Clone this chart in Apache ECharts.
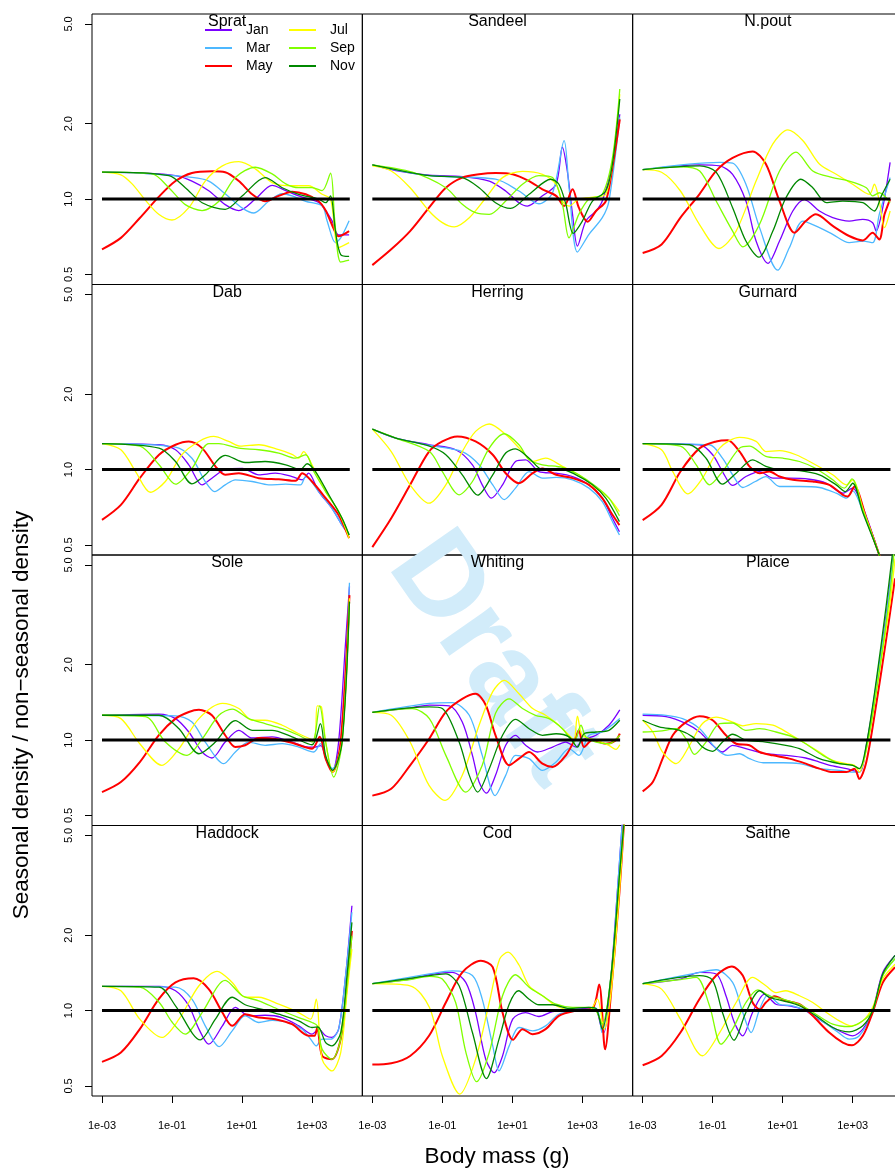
<!DOCTYPE html>
<html>
<head>
<meta charset="utf-8">
<script src="https://cdn.jsdelivr.net/npm/echarts@6/dist/echarts.min.js"></script>
<style>
html, body { margin: 0; padding: 0; background: #fff; overflow: hidden; }
/* the figure is a little wider than the window: its right column is cut at the edge */
#main { width: 905px; height: 1171px; }
</style>
</head>
<body>
<div id="main"></div>
<script>
// seasonal / non-seasonal density ratio by body mass, one panel per species
var months = ['Jan', 'Mar', 'May', 'Jul', 'Sep', 'Nov'];
var speciesNames = ['Sprat', 'Sandeel', 'N.pout', 'Dab', 'Herring', 'Gurnard',
                    'Sole', 'Whiting', 'Plaice', 'Haddock', 'Cod', 'Saithe'];
var xTicks = [1e-3, 1e-1, 1e1, 1e3];
var xTickLabels = ['1e-03', '1e-01', '1e+01', '1e+03'];
var yTicks = [0.5, 1, 2, 5];
var yTickLabels = ['0.5', '1.0', '2.0', '5.0'];
var refLine = [[1e-3, 1], [12000, 1]];

// each curve: [log10 body mass (g), ratio], in the order of months
var sprat = [
  [[-3,1.28],[-1.92,1.27],[-0.90,1.24],[-0.43,1.18],[0.05,1.08],[0.52,0.95],[0.91,0.90],[1.38,1.0],[1.86,1.135],[2.25,1.08],[2.62,1.03],[3.19,0.97],[3.39,0.90],[3.57,0.82],[3.76,0.72],[4.06,0.72]],
  [[-3,1.28],[-1.92,1.27],[-0.43,1.22],[0.05,1.18],[0.52,1.05],[1.01,0.92],[1.34,0.88],[1.76,0.98],[2.15,1.05],[2.43,1.03],[2.82,0.98],[3.29,0.94],[3.43,0.82],[3.67,0.67],[3.82,0.70],[4.06,0.82]],
  [[-3,0.63],[-2.46,0.70],[-1.92,0.84],[-1.38,1.02],[-0.90,1.18],[-0.43,1.27],[0.14,1.29],[0.52,1.28],[0.91,1.18],[1.29,1.045],[1.66,0.98],[2.05,1.03],[2.43,1.07],[2.82,1.045],[3.19,0.98],[3.39,0.90],[3.57,0.79],[3.76,0.71],[4.06,0.745]],
  [[-3,1.28],[-2.46,1.25],[-2.14,1.15],[-1.76,0.99],[-1.38,0.87],[-1.00,0.825],[-0.52,0.924],[-0.05,1.18],[0.44,1.356],[0.91,1.41],[1.38,1.32],[1.86,1.164],[2.43,1.13],[2.90,1.13],[3.29,1.045],[3.53,1.0],[3.76,0.64],[4.06,0.67]],
  [[-3,1.28],[-1.57,1.26],[-1.09,1.11],[-0.62,0.95],[-0.14,0.90],[0.34,0.98],[0.81,1.22],[1.38,1.34],[1.86,1.26],[2.25,1.15],[2.62,1.11],[3.00,1.11],[3.29,1.08],[3.53,1.27],[3.65,0.82],[3.82,0.56],[4.06,0.57]],
  [[-3,1.28],[-1.09,1.24],[-0.62,1.11],[-0.14,0.967],[0.52,0.91],[1.01,1.03],[1.66,1.218],[2.15,1.11],[2.62,1.045],[3.19,1.0],[3.39,0.967],[3.53,1.03],[3.67,0.745],[3.82,0.60],[4.06,0.59]]
];
var sandeel = [
  [[-3,1.37],[-2.33,1.3],[-1.37,1.245],[-0.43,1.23],[0.34,1.18],[0.81,1.077],[1.19,0.967],[1.43,0.938],[1.86,1.03],[2.25,1.146],[2.43,1.61],[2.57,1.295],[2.72,0.869],[2.86,0.649],[3.10,0.817],[3.39,0.896],[3.57,0.982],[3.86,1.38],[4.07,2.18]],
  [[-3,1.37],[-1.37,1.24],[0.52,1.20],[1.19,1.077],[1.76,0.958],[2.15,1.06],[2.48,1.71],[2.62,1.11],[2.86,0.614],[3.19,0.723],[3.57,0.843],[3.76,0.982],[4.07,2.12]],
  [[-3,0.545],[-2.46,0.63],[-1.92,0.745],[-1.38,0.924],[-0.90,1.11],[-0.43,1.218],[0.05,1.256],[0.52,1.27],[1.01,1.256],[1.48,1.18],[1.86,1.094],[2.25,1.03],[2.48,0.938],[2.72,1.094],[2.90,0.924],[3.15,0.812],[3.39,0.896],[3.67,0.982],[3.86,1.336],[4.07,2.08]],
  [[-3,1.356],[-2.46,1.295],[-1.92,1.11],[-1.38,0.896],[-1.00,0.805],[-0.66,0.774],[-0.23,0.843],[0.24,1.01],[0.72,1.218],[1.29,1.29],[1.86,1.256],[2.25,1.146],[2.43,0.982],[2.62,0.938],[2.90,1.0],[3.39,1.02],[3.67,1.045],[3.86,1.4],[4.07,2.62]],
  [[-3,1.37],[-1.86,1.28],[-0.90,1.11],[-0.43,0.953],[-0.05,0.882],[0.34,0.869],[0.81,0.982],[1.29,1.146],[1.76,1.24],[2.15,1.218],[2.43,0.953],[2.62,0.70],[2.90,0.869],[3.19,1.0],[3.57,1.045],[3.86,1.46],[4.07,2.75]],
  [[-3,1.37],[-1.37,1.24],[-0.43,1.218],[0.05,1.11],[0.52,0.967],[0.95,0.918],[1.48,1.045],[2.10,1.20],[2.33,1.146],[2.53,0.953],[2.74,0.73],[3.00,0.817],[3.29,0.982],[3.67,1.077],[3.86,1.38],[4.07,2.51]]
];
var npout = [
  [[-3,1.31],[-1.37,1.37],[-0.80,1.356],[-0.43,1.256],[-0.05,0.982],[0.24,0.68],[0.58,0.554],[0.91,0.68],[1.29,0.896],[1.62,0.995],[2.05,0.896],[2.43,0.843],[2.90,0.817],[3.29,0.83],[3.57,0.805],[3.67,0.745],[3.86,0.924],[4.07,1.40]],
  [[-3,1.31],[-0.80,1.40],[-0.43,1.39],[-0.05,1.146],[0.34,0.769],[0.86,0.52],[1.19,0.639],[1.58,0.817],[2.05,0.769],[2.43,0.723],[2.90,0.67],[3.29,0.68],[3.57,0.67],[3.76,0.869],[4.07,1.218]],
  [[-3,0.609],[-2.46,0.659],[-1.92,0.843],[-1.38,1.045],[-0.90,1.295],[-0.43,1.46],[0.14,1.55],[0.52,1.38],[0.91,0.982],[1.34,0.734],[1.66,0.817],[1.95,0.869],[2.43,0.781],[2.90,0.712],[3.29,0.684],[3.57,0.734],[3.76,0.69],[3.91,0.869],[4.07,1.0]],
  [[-3,1.31],[-2.46,1.28],[-1.92,1.077],[-1.38,0.793],[-0.82,0.635],[-0.33,0.745],[0.24,1.18],[0.72,1.66],[1.15,1.89],[1.58,1.71],[2.05,1.38],[2.53,1.256],[3.00,1.146],[3.48,1.045],[3.62,1.146],[3.76,0.982],[3.91,0.769],[4.07,0.896]],
  [[-3,1.31],[-1.92,1.345],[-1.37,1.295],[-0.90,0.982],[-0.43,0.745],[-0.14,0.645],[0.34,0.793],[0.91,1.295],[1.38,1.54],[1.86,1.295],[2.43,1.218],[2.90,1.18],[3.39,1.11],[3.57,1.03],[3.76,1.06],[4.07,0.967]],
  [[-3,1.31],[-1.37,1.356],[-0.90,1.28],[-0.43,0.924],[-0.05,0.68],[0.32,0.586],[0.72,0.745],[1.09,1.01],[1.52,1.20],[1.86,1.11],[2.25,0.967],[2.72,0.982],[3.29,0.967],[3.62,0.896],[3.82,1.03],[4.07,1.20]]
];
var dab = [
  [[-3,1.27],[-1.37,1.256],[-0.90,1.20],[-0.52,1.045],[-0.14,0.869],[0.14,0.924],[0.52,1.0],[1.01,1.01],[1.48,0.953],[1.95,0.967],[2.43,0.938],[2.72,0.91],[2.90,0.967],[3.19,0.817],[3.57,0.70],[3.86,0.60],[4.06,0.55]],
  [[-3,1.27],[-0.90,1.23],[-0.43,1.11],[-0.05,0.896],[0.22,0.817],[0.52,0.869],[0.81,0.91],[1.29,0.896],[1.76,0.869],[2.25,0.874],[2.67,0.869],[2.82,0.938],[3.19,0.817],[3.57,0.70],[3.86,0.60],[4.06,0.55]],
  [[-3,0.63],[-2.46,0.723],[-1.92,0.924],[-1.37,1.146],[-0.90,1.256],[-0.52,1.295],[-0.14,1.218],[0.24,1.03],[0.52,0.953],[0.91,0.967],[1.48,0.924],[2.05,0.915],[2.53,0.902],[2.72,0.967],[3.00,0.896],[3.39,0.769],[3.76,0.659],[4.06,0.532]],
  [[-3,1.27],[-2.46,1.20],[-2.04,0.982],[-1.62,0.812],[-1.19,0.896],[-0.72,1.146],[-0.23,1.295],[0.19,1.356],[0.62,1.295],[0.95,1.24],[1.48,1.256],[2.05,1.20],[2.43,1.15],[2.62,1.11],[2.76,1.18],[3.00,1.045],[3.39,0.817],[3.76,0.68],[4.06,0.532]],
  [[-3,1.27],[-1.92,1.24],[-1.37,1.045],[-0.90,0.874],[-0.43,1.01],[0.05,1.27],[0.34,1.27],[0.91,1.218],[1.48,1.20],[2.05,1.164],[2.53,1.11],[2.82,1.146],[3.05,0.982],[3.39,0.817],[3.76,0.68],[4.06,0.548]],
  [[-3,1.27],[-1.37,1.218],[-0.90,1.077],[-0.43,0.877],[-0.05,0.953],[0.52,1.14],[1.09,1.067],[1.66,1.077],[2.25,1.045],[2.67,1.0],[2.86,1.055],[3.10,0.982],[3.48,0.793],[3.86,0.639],[4.06,0.548]]
];
var herring = [
  [[-3,1.45],[-2.33,1.336],[-1.37,1.256],[-0.62,1.20],[-0.14,1.045],[0.14,0.869],[0.40,0.769],[0.72,0.869],[1.09,1.077],[1.38,1.094],[1.76,0.982],[2.25,0.967],[2.72,0.938],[3.19,0.869],[3.57,0.769],[3.86,0.639],[4.06,0.565]],
  [[-3,1.45],[-2.33,1.336],[-1.37,1.25],[-0.43,1.18],[0.05,1.045],[0.44,0.869],[0.77,0.759],[1.09,0.843],[1.48,0.982],[1.86,0.924],[2.25,0.93],[2.72,0.91],[3.19,0.843],[3.57,0.745],[3.86,0.62],[4.06,0.548]],
  [[-3,0.49],[-2.46,0.639],[-1.92,0.869],[-1.38,1.18],[-1.00,1.295],[-0.57,1.356],[-0.05,1.295],[0.44,1.146],[0.81,0.967],[1.19,0.882],[1.58,0.967],[1.86,1.01],[2.25,0.953],[2.72,0.924],[3.19,0.869],[3.57,0.769],[3.86,0.66],[4.06,0.60]],
  [[-3,1.45],[-2.46,1.18],[-1.92,0.869],[-1.38,0.734],[-0.90,0.869],[-0.43,1.18],[-0.05,1.42],[0.34,1.52],[0.81,1.38],[1.29,1.18],[1.58,1.077],[1.95,1.11],[2.43,1.03],[2.90,0.953],[3.39,0.843],[3.76,0.769],[4.06,0.68]],
  [[-3,1.45],[-2.33,1.336],[-1.37,1.18],[-1.00,0.982],[-0.52,0.793],[-0.14,0.896],[0.34,1.218],[0.77,1.39],[1.19,1.256],[1.48,1.094],[1.86,1.045],[2.43,1.02],[2.90,0.953],[3.39,0.856],[3.76,0.769],[4.06,0.654]],
  [[-3,1.45],[-2.33,1.336],[-1.37,1.24],[-0.90,1.146],[-0.43,0.953],[0.01,0.79],[0.44,0.953],[0.81,1.164],[1.09,1.21],[1.48,1.11],[1.86,1.0],[2.33,1.01],[2.82,0.953],[3.29,0.869],[3.67,0.769],[4.06,0.62]]
];
var gurnard = [
  [[-3,1.27],[-1.37,1.256],[-1.00,1.146],[-0.72,0.982],[-0.43,0.864],[-0.05,0.938],[0.34,0.982],[0.72,0.924],[1.19,0.924],[1.76,0.915],[2.25,0.882],[2.72,0.805],[3.00,0.843],[3.19,0.769],[3.48,0.60],[3.76,0.456],[3.89,0.39]],
  [[-3,1.27],[-1.09,1.256],[-0.72,1.11],[-0.43,0.953],[-0.14,0.848],[0.22,0.896],[0.52,0.938],[0.91,0.856],[1.48,0.856],[2.05,0.848],[2.53,0.805],[2.82,0.769],[3.00,0.822],[3.29,0.68],[3.76,0.456],[3.89,0.39]],
  [[-3,0.628],[-2.46,0.723],[-1.92,0.982],[-1.37,1.218],[-0.90,1.295],[-0.57,1.31],[-0.23,1.18],[0.05,1.03],[0.34,0.967],[0.62,0.982],[0.91,0.938],[1.29,0.91],[1.86,0.896],[2.33,0.869],[2.72,0.793],[2.86,0.781],[3.05,0.856],[3.39,0.639],[3.76,0.456],[3.89,0.39]],
  [[-3,1.27],[-2.46,1.20],[-2.14,0.982],[-1.71,0.80],[-1.29,0.924],[-0.80,1.218],[-0.23,1.345],[0.24,1.295],[0.52,1.18],[0.91,1.19],[1.38,1.146],[1.86,1.06],[2.43,0.953],[2.82,0.869],[3.00,0.91],[3.29,0.70],[3.76,0.456],[3.89,0.39]],
  [[-3,1.27],[-1.92,1.24],[-1.47,1.045],[-1.09,0.869],[-0.72,0.982],[-0.23,1.218],[0.05,1.24],[0.52,1.13],[1.01,1.11],[1.48,1.077],[1.95,1.01],[2.43,0.91],[2.76,0.843],[2.98,0.918],[3.29,0.69],[3.76,0.456],[3.89,0.39]],
  [[-3,1.27],[-1.66,1.256],[-1.19,1.11],[-0.72,0.874],[-0.33,0.967],[0.14,1.094],[0.52,1.03],[0.91,1.0],[1.48,0.99],[2.05,0.953],[2.53,0.869],[2.79,0.817],[3.00,0.882],[3.29,0.674],[3.76,0.456],[3.89,0.39]]
];
var sole = [
  [[-3,1.256],[-1.37,1.27],[-0.90,1.218],[-0.52,1.077],[-0.14,0.896],[0.14,0.848],[0.52,0.982],[0.91,1.094],[1.29,1.02],[1.86,1.03],[2.43,0.982],[2.90,0.938],[3.10,0.938],[3.25,0.95],[3.43,0.817],[3.59,0.757],[3.76,0.982],[3.96,2.47],[4.07,4.1]],
  [[-3,1.256],[-0.90,1.25],[-0.43,1.18],[-0.05,0.982],[0.48,0.805],[0.81,0.896],[1.19,0.982],[1.66,0.953],[2.15,0.967],[2.62,0.938],[3.05,0.896],[3.24,0.967],[3.43,0.817],[3.59,0.769],[3.82,0.982],[4.07,4.25]],
  [[-3,0.62],[-2.46,0.68],[-1.92,0.817],[-1.38,1.045],[-0.90,1.218],[-0.52,1.295],[-0.23,1.32],[0.14,1.256],[0.52,1.045],[0.81,0.938],[1.09,0.953],[1.48,1.02],[1.95,1.01],[2.43,0.975],[3.00,0.924],[3.22,1.03],[3.39,0.843],[3.59,0.745],[3.82,0.982],[4.07,3.79]],
  [[-3,1.256],[-2.46,1.218],[-1.92,0.967],[-1.29,0.793],[-0.80,0.924],[-0.23,1.218],[0.44,1.40],[0.91,1.336],[1.29,1.20],[1.66,1.20],[2.15,1.146],[2.62,1.06],[3.05,1.0],[3.15,1.37],[3.27,1.356],[3.39,0.982],[3.59,0.745],[3.86,1.0],[4.07,3.68]],
  [[-3,1.256],[-1.76,1.24],[-1.19,0.982],[-0.57,0.869],[-0.14,1.01],[0.34,1.256],[0.72,1.33],[1.19,1.218],[1.66,1.164],[2.15,1.11],[2.62,1.045],[3.00,0.982],[3.22,1.37],[3.39,0.982],[3.62,0.712],[3.86,0.982],[4.07,3.57]],
  [[-3,1.256],[-1.37,1.256],[-0.80,1.11],[-0.23,0.882],[0.24,0.982],[0.81,1.196],[1.29,1.094],[1.86,1.094],[2.43,1.03],[3.00,0.958],[3.24,1.164],[3.39,0.869],[3.59,0.757],[3.86,0.982],[4.07,3.57]]
];
var whiting = [
  [[-3,1.29],[-1.92,1.345],[-1.37,1.38],[-0.80,1.37],[-0.43,1.18],[-0.14,0.869],[0.05,0.68],[0.26,0.614],[0.52,0.723],[0.81,0.953],[1.09,1.045],[1.38,0.953],[1.72,0.896],[2.15,0.938],[2.53,0.982],[2.82,0.938],[3.00,1.0],[3.39,1.045],[3.76,1.146],[4.07,1.32]],
  [[-3,1.29],[-1.37,1.40],[-0.72,1.41],[-0.23,1.256],[0.14,0.869],[0.51,0.60],[0.81,0.723],[1.09,0.869],[1.48,0.843],[1.86,0.757],[2.25,0.817],[2.62,0.924],[2.90,0.869],[3.19,1.045],[3.57,1.077],[4.07,1.218]],
  [[-3,0.60],[-2.46,0.639],[-1.92,0.793],[-1.38,1.01],[-0.90,1.295],[-0.43,1.46],[-0.05,1.53],[0.24,1.38],[0.52,1.045],[0.91,0.793],[1.19,0.843],[1.48,0.896],[1.86,0.805],[2.15,0.781],[2.53,0.869],[2.82,1.03],[2.90,1.094],[3.05,0.938],[3.29,1.0],[3.67,0.967],[3.96,1.0],[4.07,1.06]],
  [[-3,1.29],[-2.46,1.256],[-1.92,0.982],[-1.38,0.659],[-0.92,0.574],[-0.43,0.723],[0.05,1.146],[0.44,1.56],[0.77,1.73],[1.19,1.53],[1.58,1.336],[1.95,1.256],[2.33,1.146],[2.62,1.045],[2.76,1.0],[2.86,1.245],[3.00,1.045],[3.39,1.0],[3.76,0.953],[3.96,0.918],[4.07,0.958]],
  [[-3,1.29],[-1.86,1.336],[-1.37,1.218],[-0.90,0.869],[-0.33,0.62],[0.14,0.793],[0.52,1.28],[0.91,1.46],[1.29,1.336],[1.66,1.256],[2.05,1.218],[2.43,1.11],[2.76,0.982],[2.96,1.146],[3.10,1.03],[3.39,0.982],[3.76,0.967],[4.07,1.045]],
  [[-3,1.29],[-1.37,1.356],[-1.00,1.336],[-0.52,0.982],[-0.23,0.723],[0.01,0.62],[0.34,0.769],[0.72,1.045],[1.09,1.21],[1.48,1.11],[1.86,1.045],[2.25,1.06],[2.62,1.03],[2.86,0.938],[3.05,1.06],[3.39,1.077],[3.76,1.094],[4.07,1.20]]
];
var plaice = [
  [[-3,1.256],[-2.33,1.24],[-1.76,1.164],[-1.37,1.077],[-1.00,0.953],[-0.72,0.896],[-0.43,0.953],[-0.05,0.924],[0.52,0.882],[1.09,0.869],[1.66,0.848],[2.05,0.817],[2.43,0.788],[2.82,0.769],[3.19,0.745],[3.39,0.95],[3.67,1.66],[3.96,3.2],[4.17,5.6]],
  [[-3,1.27],[-2.33,1.256],[-1.86,1.218],[-1.37,1.11],[-0.90,0.924],[-0.57,0.869],[-0.23,0.882],[0.05,0.843],[0.44,0.812],[1.01,0.812],[1.48,0.805],[2.05,0.769],[2.62,0.757],[3.00,0.745],[3.19,0.745],[3.39,0.93],[3.67,1.63],[3.96,3.1],[4.17,5.5]],
  [[-3,0.624],[-2.71,0.68],[-2.43,0.843],[-2.14,1.045],[-1.76,1.18],[-1.37,1.245],[-1.00,1.20],[-0.62,1.045],[-0.33,0.967],[0.05,0.953],[0.34,0.896],[0.72,0.869],[1.19,0.843],[1.66,0.805],[2.05,0.769],[2.43,0.745],[2.82,0.745],[3.05,0.769],[3.19,0.70],[3.39,0.817],[3.67,1.38],[3.96,2.54],[4.21,4.42]],
  [[-3,1.20],[-2.71,1.077],[-2.43,0.896],[-2.04,0.805],[-1.66,0.953],[-1.29,1.164],[-0.90,1.235],[-0.43,1.18],[-0.14,1.14],[0.24,1.164],[0.72,1.146],[1.19,1.06],[1.58,0.982],[2.05,0.896],[2.43,0.83],[2.82,0.805],[3.05,0.793],[3.19,0.745],[3.48,1.06],[3.76,1.87],[4.06,3.46],[4.21,5.3]],
  [[-3,1.077],[-2.53,1.085],[-2.04,1.11],[-1.76,1.01],[-1.52,0.877],[-1.19,0.982],[-0.80,1.164],[-0.43,1.17],[-0.05,1.094],[0.34,1.11],[0.81,1.077],[1.29,1.03],[1.66,0.967],[2.15,0.869],[2.62,0.805],[3.00,0.793],[3.19,0.769],[3.43,0.982],[3.76,1.87],[4.06,3.79],[4.18,5.6]],
  [[-3,1.20],[-2.53,1.13],[-1.94,1.094],[-1.57,1.03],[-1.29,0.938],[-1.00,0.902],[-0.72,0.982],[-0.43,1.055],[-0.05,1.0],[0.52,0.982],[1.09,0.953],[1.48,0.924],[2.05,0.843],[2.62,0.805],[3.00,0.793],[3.19,0.769],[3.39,0.958],[3.67,1.71],[3.96,3.46],[4.14,5.6]]
];
var haddock = [
  [[-3,1.25],[-1.37,1.25],[-0.90,1.20],[-0.52,1.045],[-0.23,0.843],[0.05,0.734],[0.44,0.869],[0.81,1.03],[1.19,0.953],[1.66,0.958],[2.15,0.938],[2.62,0.869],[3.00,0.805],[3.19,0.843],[3.39,0.793],[3.57,0.781],[3.76,0.843],[3.96,1.38],[4.14,2.62]],
  [[-3,1.25],[-0.90,1.24],[-0.43,1.11],[-0.05,0.869],[0.35,0.718],[0.72,0.83],[1.09,0.953],[1.48,0.896],[1.86,0.915],[2.33,0.896],[2.72,0.843],[2.96,0.769],[3.12,0.723],[3.29,0.769],[3.53,0.769],[3.76,0.843],[3.96,1.38],[4.14,2.47]],
  [[-3,0.624],[-2.46,0.68],[-1.92,0.843],[-1.38,1.11],[-0.90,1.295],[-0.38,1.345],[0.05,1.218],[0.44,0.982],[0.72,0.869],[1.09,0.967],[1.48,0.938],[1.95,0.924],[2.43,0.882],[2.90,0.793],[3.07,0.793],[3.15,0.856],[3.29,0.659],[3.57,0.639],[3.82,0.769],[3.96,1.11],[4.14,2.08]],
  [[-3,1.25],[-2.46,1.20],[-1.92,0.924],[-1.29,0.781],[-0.80,0.924],[-0.23,1.256],[0.29,1.435],[0.72,1.295],[1.09,1.13],[1.48,1.13],[2.05,1.06],[2.62,0.982],[2.96,0.924],[3.12,1.11],[3.29,0.639],[3.57,0.574],[3.82,0.68],[4.00,1.18],[4.14,1.76]],
  [[-3,1.25],[-1.92,1.24],[-1.37,1.08],[-1.00,0.90],[-0.62,0.805],[-0.14,0.982],[0.52,1.32],[1.01,1.146],[1.48,1.094],[2.05,1.01],[2.62,0.938],[3.00,0.896],[3.15,0.869],[3.29,0.70],[3.57,0.639],[3.82,0.769],[4.00,1.256],[4.14,1.99]],
  [[-3,1.25],[-1.37,1.24],[-0.90,1.045],[-0.19,0.764],[0.24,0.924],[0.72,1.13],[1.09,1.055],[1.58,1.01],[2.05,0.967],[2.62,0.91],[3.00,0.856],[3.17,0.86],[3.39,0.745],[3.57,0.723],[3.82,0.817],[4.00,1.38],[4.14,2.25]]
];
var cod = [
  [[-3,1.28],[-1.92,1.336],[-1.37,1.39],[-0.72,1.42],[-0.33,1.295],[-0.05,0.982],[0.24,0.639],[0.48,0.565],[0.72,0.659],[1.01,0.924],[1.38,0.982],[1.76,0.947],[2.15,0.99],[2.62,1.006],[3.19,1.02],[3.39,1.01],[3.53,0.869],[3.62,0.817],[3.82,1.38],[4.00,2.97],[4.14,5.6]],
  [[-3,1.28],[-1.37,1.40],[-0.72,1.44],[-0.14,1.38],[0.14,1.111],[0.44,0.723],[0.62,0.574],[0.91,0.723],[1.19,0.856],[1.58,0.83],[1.95,0.869],[2.33,0.967],[2.82,0.995],[3.39,1.02],[3.56,0.817],[3.82,1.38],[4.00,2.97],[4.14,5.6]],
  [[-3,0.609],[-2.46,0.616],[-1.92,0.659],[-1.38,0.793],[-0.90,1.077],[-0.43,1.42],[0.10,1.58],[0.44,1.49],[0.72,0.982],[1.02,0.764],[1.29,0.843],[1.58,0.805],[1.95,0.843],[2.33,0.953],[2.82,1.0],[3.29,1.02],[3.48,1.27],[3.65,0.70],[3.82,1.18],[4.06,2.97],[4.19,5.6]],
  [[-3,1.28],[-1.92,1.256],[-1.37,1.03],[-1.00,0.659],[-0.50,0.464],[-0.05,0.639],[0.34,1.077],[0.64,1.61],[0.88,1.71],[1.19,1.52],[1.48,1.256],[1.86,1.146],[2.25,1.045],[2.72,1.0],[3.19,1.0],[3.43,1.11],[3.62,0.843],[3.82,1.18],[4.06,2.97],[4.19,5.6]],
  [[-3,1.28],[-1.92,1.33],[-1.37,1.37],[-1.00,1.336],[-0.62,1.077],[-0.33,0.684],[-0.02,0.52],[0.34,0.68],[0.72,1.146],[1.09,1.39],[1.48,1.24],[1.86,1.146],[2.25,1.06],[2.72,1.03],[3.19,1.03],[3.39,1.0],[3.57,0.882],[3.82,1.38],[4.06,3.46],[4.19,5.6]],
  [[-3,1.28],[-1.37,1.38],[-0.90,1.40],[-0.52,1.256],[-0.14,0.817],[0.26,0.535],[0.62,0.769],[0.91,1.06],[1.18,1.20],[1.48,1.11],[1.76,1.055],[2.15,1.055],[2.62,1.02],[3.19,1.03],[3.39,1.02],[3.57,0.843],[3.82,1.38],[4.06,3.46],[4.19,5.6]]
];
var saithe = [
  [[-3,1.28],[-1.92,1.336],[-1.37,1.42],[-0.90,1.40],[-0.62,1.146],[-0.38,0.896],[-0.14,0.793],[0.14,0.982],[0.48,1.164],[0.81,1.06],[1.19,1.045],[1.58,1.01],[1.95,0.938],[2.43,0.856],[2.82,0.805],[3.00,0.793],[3.29,0.843],[3.57,1.0],[3.86,1.42],[4.21,1.66]],
  [[-3,1.28],[-1.37,1.42],[-0.90,1.455],[-0.43,1.295],[-0.14,0.982],[0.10,0.817],[0.34,1.01],[0.58,1.155],[0.91,1.06],[1.29,1.045],[1.66,1.0],[2.05,0.924],[2.53,0.83],[2.90,0.769],[3.19,0.793],[3.57,0.982],[3.86,1.38],[4.21,1.61]],
  [[-3,0.605],[-2.46,0.659],[-1.92,0.817],[-1.38,1.11],[-0.90,1.38],[-0.45,1.50],[-0.14,1.38],[0.14,1.077],[0.35,1.01],[0.52,1.077],[0.77,1.14],[1.09,1.094],[1.48,1.06],[1.86,0.953],[2.33,0.817],[2.72,0.745],[2.98,0.727],[3.29,0.793],[3.57,0.982],[3.86,1.295],[4.21,1.49]],
  [[-3,1.28],[-2.46,1.218],[-1.92,0.924],[-1.29,0.66],[-0.80,0.817],[-0.33,1.077],[0.14,1.356],[0.52,1.256],[0.81,1.18],[1.09,1.20],[1.48,1.146],[1.86,1.077],[2.25,0.982],[2.62,0.91],[2.96,0.869],[3.29,0.91],[3.57,1.03],[3.86,1.336],[4.21,1.53]],
  [[-3,1.28],[-1.92,1.33],[-1.47,1.356],[-1.09,1.045],[-0.76,0.734],[-0.43,0.843],[-0.05,1.077],[0.29,1.21],[0.62,1.146],[1.01,1.11],[1.48,1.06],[1.95,0.967],[2.43,0.882],[2.90,0.862],[3.29,0.91],[3.57,1.0],[3.86,1.38],[4.21,1.61]],
  [[-3,1.28],[-1.37,1.38],[-1.00,1.32],[-0.72,0.982],[-0.39,0.762],[-0.05,0.982],[0.34,1.20],[0.62,1.13],[1.01,1.094],[1.48,1.045],[1.95,0.953],[2.43,0.856],[2.90,0.822],[3.29,0.869],[3.57,1.0],[3.86,1.40],[4.21,1.66]]
];
var curves = [sprat, sandeel, npout, dab, herring, gurnard, sole, whiting, plaice, haddock, cod, saithe];

var colors = ['#7a00ff', '#4db8ff', '#ff0000', '#ffff00', '#80ff00', '#008800'];
var font = 'Liberation Sans, Arial, Helvetica, sans-serif';
var left0 = 92, top0 = 14, panelW = 270.33, panelH = 270.5;
var xMin = 5.18e-4, xMax = 27400, yMin = 0.456, yMax = 5.48;

function labelFor(ticks, labels) {
  return function (v) {
    for (var i = 0; i < ticks.length; i++) {
      if (Math.abs(Math.log10(ticks[i]) - Math.log10(v)) < 0.01) return labels[i];
    }
    return '';
  };
}

var grids = [], xAxes = [], yAxes = [], titles = [], series = [];
speciesNames.forEach(function (name, p) {
  var row = Math.floor(p / 3), col = p % 3;
  var gl = left0 + col * panelW, gt = top0 + row * panelH;
  grids.push({ left: gl, top: gt, width: panelW, height: panelH, show: true,
               borderColor: '#000', borderWidth: 1, backgroundColor: 'transparent' });
  titles.push({ text: name, left: gl + panelW / 2, top: gt, textAlign: 'center', padding: 0,
                textStyle: { fontSize: 16, fontWeight: 'normal', color: '#000', fontFamily: font } });
  xAxes.push({
    type: 'log', gridIndex: p, min: xMin, max: xMax,
    axisLine: { show: false }, splitLine: { show: false }, minorTick: { show: false },
    axisTick: { show: row === 3, customValues: xTicks, length: 7, lineStyle: { color: '#000' } },
    axisLabel: { show: row === 3, customValues: xTicks, formatter: labelFor(xTicks, xTickLabels),
                 margin: 24, fontSize: 11, color: '#000', fontFamily: font }
  });
  yAxes.push({
    type: 'log', gridIndex: p, min: yMin, max: yMax,
    axisLine: { show: false }, splitLine: { show: false }, minorTick: { show: false },
    axisTick: { show: col === 0, customValues: yTicks, length: 7, lineStyle: { color: '#000' } },
    axisLabel: { show: col === 0, customValues: yTicks, formatter: labelFor(yTicks, yTickLabels),
                 rotate: 90, margin: 18, fontSize: 11, color: '#000', fontFamily: font }
  });
  curves[p].forEach(function (pts, m) {
    series.push({
      name: months[m], type: 'line', xAxisIndex: p, yAxisIndex: p,
      data: pts.map(function (d) { return [Math.pow(10, d[0]), d[1]]; }),
      symbol: 'none', smooth: 0.3, clip: true, silent: true,
      lineStyle: { color: colors[m], width: m === 2 ? 2 : 1.3 },
      itemStyle: { color: colors[m] }
    });
  });
  series.push({
    type: 'line', xAxisIndex: p, yAxisIndex: p, data: refLine, symbol: 'none', silent: true,
    lineStyle: { color: '#000', width: 3 }, z: 3
  });
});

var legendBase = {
  orient: 'vertical', icon: 'rect', itemWidth: 27, itemHeight: 2, itemGap: 4, padding: 0,
  selectedMode: false,
  textStyle: { fontSize: 14, color: '#000', fontFamily: font, padding: [0, 0, 0, 9] }
};

var option = {
  animation: false,
  textStyle: { fontFamily: font },
  title: titles,
  legend: [
    Object.assign({ data: ['Jan', 'Mar', 'May'], left: 205, top: 23 }, legendBase),
    Object.assign({ data: ['Jul', 'Sep', 'Nov'], left: 289, top: 23 }, legendBase)
  ],
  grid: grids,
  xAxis: xAxes,
  yAxis: yAxes,
  series: series,
  graphic: [
    { type: 'text', x: 492, y: 660, rotation: -0.96, z: 0, silent: true,
      style: { text: 'Draft', fontSize: 118, fontWeight: 'bold', fontFamily: font,
               fill: '#d2ecfa', align: 'center', verticalAlign: 'middle' } },
    { type: 'text', x: 22, y: 715, rotation: Math.PI / 2, silent: true,
      style: { text: 'Seasonal density / non\u2212seasonal density', fontSize: 22.5, fontFamily: font,
               fill: '#000', align: 'center', verticalAlign: 'middle' } },
    { type: 'text', x: 497, y: 1157, silent: true,
      style: { text: 'Body mass (g)', fontSize: 22.5, fontFamily: font,
               fill: '#000', align: 'center', verticalAlign: 'middle' } }
  ]
};

var chart = echarts.init(document.getElementById('main'));
chart.setOption(option);
</script>
</body>
</html>
